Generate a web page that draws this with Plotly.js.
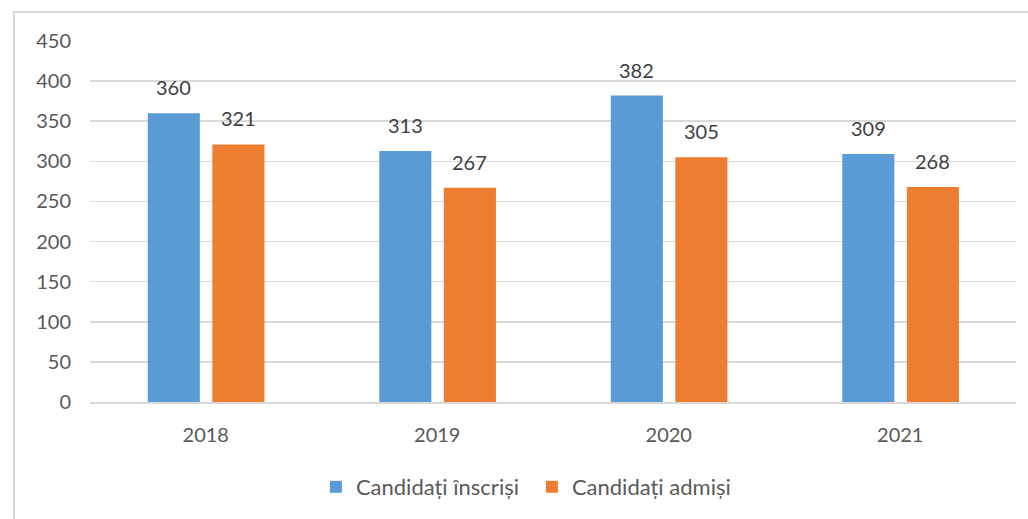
<!DOCTYPE html>
<html>
<head>
<meta charset="utf-8">
<script src="https://cdn.plot.ly/plotly-3.0.1.min.js"></script>
<style>
  html, body { margin: 0; padding: 0; background: #fff; overflow: hidden; }
  #frame { position: absolute; left: 13px; top: 11px; width: 1100px; height: 600px; border: 2px solid #d9d9d9; box-sizing: border-box; }
  #chart { position: absolute; left: 0; top: 0; width: 1028px; height: 519px; }
</style>
</head>
<body>
<div id="frame"></div>
<div id="chart"></div>
<script>
const years = ['2018', '2019', '2020', '2021'];
const inscrisi = [360, 313, 382, 309];
const admisi = [321, 267, 305, 268];
const seriesNames = ['Candidați înscriși', 'Candidați admiși'];
const colors = ['#5B9BD5', '#ED7D31'];
const yTicks = [0, 50, 100, 150, 200, 250, 300, 350, 400, 450];

const barWidth = 0.225;
const offsets = [-0.2505, 0.0285];
const series = [inscrisi, admisi];

const traces = series.map((vals, i) => ({
  type: 'bar',
  x: years,
  y: vals,
  name: seriesNames[i],
  marker: { color: colors[i] },
  width: barWidth,
  offset: offsets[i],
  hoverinfo: 'skip'
}));

const annotations = [];
series.forEach((vals, i) => {
  vals.forEach((v, j) => {
    annotations.push({
      x: j + offsets[i] + barWidth / 2,
      y: v,
      xref: 'x', yref: 'y',
      text: String(v),
      showarrow: false,
      yanchor: 'bottom',
      yshift: 12,
      font: { family: 'Lato, sans-serif', size: 20, color: '#404040' }
    });
  });
});

const layout = {
  width: 1028,
  height: 519,
  paper_bgcolor: 'rgba(0,0,0,0)',
  plot_bgcolor: 'rgba(0,0,0,0)',
  margin: { l: 90, r: 12, t: 41, b: 117, autoexpand: false },
  barmode: 'overlay',
  showlegend: true,
  font: { family: 'Lato, sans-serif', size: 20, color: '#595959' },
  xaxis: {
    type: 'category',
    range: [-0.5, 3.5],
    automargin: false,
    showgrid: false,
    zeroline: false,
    showline: true,
    linecolor: '#d9d9d9',
    linewidth: 2,
    ticks: '',
    ticklabelstandoff: 14,
    tickfont: { family: 'Lato, sans-serif', size: 20, color: '#595959' }
  },
  yaxis: {
    range: [0, 450],
    automargin: false,
    tickvals: yTicks,
    ticktext: yTicks.map(String),
    showgrid: true,
    gridcolor: '#d9d9d9',
    gridwidth: 1.5,
    zeroline: false,
    showline: false,
    ticks: '',
    ticklabelstandoff: 18,
    tickfont: { family: 'Lato, sans-serif', size: 20, color: '#595959' }
  },
  legend: {
    orientation: 'h',
    xref: 'container', yref: 'container',
    x: 0.5174, xanchor: 'center',
    y: 1 - 487 / 519, yanchor: 'middle',
    font: { family: 'Lato, sans-serif', size: 22, color: '#595959' },
    itemwidth: 30,
    entrywidth: 171,
    entrywidthmode: 'pixels',
    traceorder: 'normal'
  },
  annotations: annotations
};

Plotly.newPlot('chart', traces, layout, { displayModeBar: false, staticPlot: true });
</script>
</body>
</html>
